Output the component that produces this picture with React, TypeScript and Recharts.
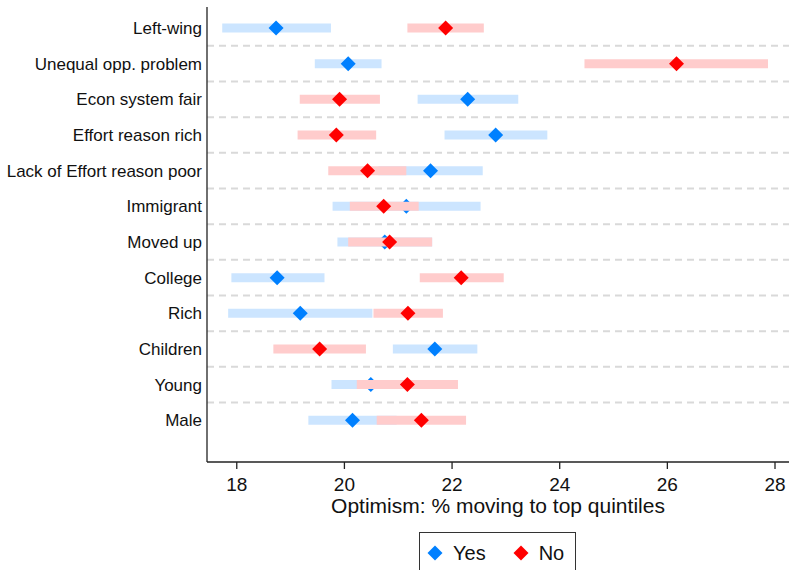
import { ErrorBar, ReferenceLine, Scatter, ScatterChart, XAxis, YAxis } from 'recharts'

const categories = [
  'Left-wing',
  'Unequal opp. problem',
  'Econ system fair',
  'Effort reason rich',
  'Lack of Effort reason poor',
  'Immigrant',
  'Moved up',
  'College',
  'Rich',
  'Children',
  'Young',
  'Male',
]

const yesMean = [18.73, 20.07, 22.29, 22.81, 21.6, 21.15, 20.75, 18.75, 19.18, 21.68, 20.49, 20.15]
const yesLow = [17.73, 19.45, 21.36, 21.86, 20.63, 19.78, 19.87, 17.9, 17.84, 20.9, 19.76, 19.33]
const yesHigh = [19.75, 20.69, 23.23, 23.77, 22.57, 22.53, 21.63, 19.63, 20.52, 22.47, 21.22, 20.97]

const noMean = [21.88, 26.17, 19.91, 19.85, 20.43, 20.73, 20.84, 22.17, 21.18, 19.54, 21.17, 21.43]
const noLow = [21.17, 24.46, 19.17, 19.13, 19.7, 20.1, 20.07, 21.4, 20.54, 18.68, 20.23, 20.6]
const noHigh = [22.59, 27.87, 20.66, 20.59, 21.15, 21.38, 21.63, 22.96, 21.83, 20.4, 22.11, 22.26]

const xTicks = [18, 20, 22, 24, 26, 28]
const xDomain = [17.447, 28.26]
const yDomain = [0.41, 13.17]

const BLUE = '#0080ff'
const RED = '#ff0000'
const FONT = '"Liberation Sans", Arial, Helvetica, sans-serif'

const build = (mean: number[], low: number[], high: number[]) =>
  categories.map((c, i) => ({
    name: c,
    row: i + 1,
    val: mean[i],
    ci: [mean[i] - low[i], high[i] - mean[i]],
  }))

const yesData = build(yesMean, yesLow, yesHigh)
const noData = build(noMean, noLow, noHigh)

const separators = categories.slice(1).map((_, i) => i + 1.5)

function diamond(color: string) {
  return (props: any) => {
    const { cx, cy } = props
    const r = 7.5
    return (
      <path
        d={`M${cx},${cy - r}L${cx + r},${cy}L${cx},${cy + r}L${cx - r},${cy}Z`}
        fill={color}
      />
    )
  }
}

function LegendKey({ color }: { color: string }) {
  return (
    <svg width={16} height={16} style={{ display: 'block' }}>
      <path d="M8,0.5L15.5,8L8,15.5L0.5,8Z" fill={color} />
    </svg>
  )
}

export default function App() {
  return (
    <div style={{ position: 'absolute', left: 0, top: 0, width: 789, height: 570, fontFamily: FONT }}>
      {/* base chart: axes, separators and the "Yes" series */}
      <ScatterChart width={789} height={570} margin={{ top: 7, right: 0, bottom: 48, left: 0 }}>
        {separators.map((y) => (
          <ReferenceLine key={y} y={y} stroke="#d9d9d9" strokeWidth={2} strokeDasharray="7 5" />
        ))}
        <XAxis
          type="number"
          dataKey="val"
          domain={xDomain}
          allowDataOverflow
          ticks={xTicks}
          height={60}
          tickSize={7}
          tickMargin={9}
          tick={{ fontSize: 19, fill: '#111', fontFamily: FONT }}
          axisLine={{ stroke: '#222', strokeWidth: 1.3 }}
          tickLine={{ stroke: '#222', strokeWidth: 1.3 }}
          label={{
            value: 'Optimism: % moving to top quintiles',
            position: 'insideBottom',
            offset: 9,
            style: { fontSize: 21, fill: '#111', fontFamily: FONT },
          }}
        />
        <YAxis
          type="number"
          dataKey="row"
          reversed
          domain={yDomain}
          allowDataOverflow
          ticks={categories.map((_, i) => i + 1)}
          tickFormatter={(v: number) => categories[v - 1] ?? ''}
          width={207}
          tickSize={0}
          tickMargin={5}
          tick={{ fontSize: 17, fill: '#111', fontFamily: FONT }}
          axisLine={{ stroke: '#222', strokeWidth: 1.3 }}
          tickLine={false}
          interval={0}
        />
        <Scatter data={yesData} shape={diamond(BLUE)} isAnimationActive={false}>
          <ErrorBar dataKey="ci" direction="x" width={0} stroke="#cce5ff" strokeWidth={9} isAnimationActive={false} />
        </Scatter>
      </ScatterChart>

      {/* overlay so the "No" CI bars sit on top of the blue diamonds */}
      <div style={{ position: 'absolute', left: 0, top: 0 }}>
        <ScatterChart width={789} height={570} margin={{ top: 7, right: 0, bottom: 108, left: 207 }}>
          <XAxis type="number" dataKey="val" domain={xDomain} allowDataOverflow hide />
          <YAxis type="number" dataKey="row" reversed domain={yDomain} allowDataOverflow hide />
          <Scatter data={noData} shape={diamond(RED)} isAnimationActive={false}>
            <ErrorBar dataKey="ci" direction="x" width={0} stroke="#ffcccc" strokeWidth={9} isAnimationActive={false} />
          </Scatter>
        </ScatterChart>
      </div>

      <div
        style={{
          position: 'absolute',
          left: 419,
          top: 532,
          width: 157,
          height: 50,
          border: '1px solid #333',
          boxSizing: 'border-box',
          display: 'flex',
          alignItems: 'flex-start',
          paddingTop: 12,
          paddingLeft: 7,
          fontSize: 20,
          color: '#111',
        }}
      >
        <LegendKey color={BLUE} />
        <span style={{ marginLeft: 10, lineHeight: '17px' }}>Yes</span>
        <span style={{ marginLeft: 27 }}>
          <LegendKey color={RED} />
        </span>
        <span style={{ marginLeft: 10, lineHeight: '17px' }}>No</span>
      </div>
    </div>
  )
}
